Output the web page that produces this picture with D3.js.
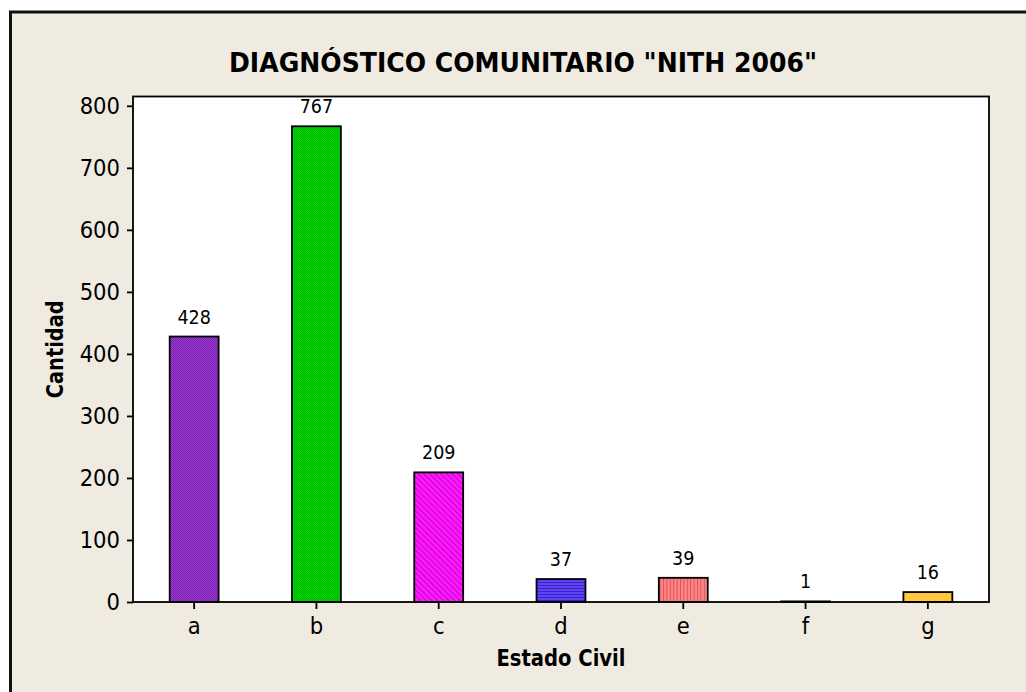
<!DOCTYPE html>
<html>
<head>
<meta charset="utf-8">
<script src="https://cdn.jsdelivr.net/npm/d3@7"></script>
<style>
    body { margin: 0; background: #fff; }
    text { font-family: "DejaVu Sans Condensed", "DejaVu Sans", sans-serif; font-stretch: condensed; fill: #000; }
</style>
</head>
<body>
<svg id="chart" width="1026" height="692"></svg>
<script>
const categories = ["a", "b", "c", "d", "e", "f", "g"];
const values = [428, 767, 209, 37, 39, 1, 16];
const yTicks = [0, 100, 200, 300, 400, 500, 600, 700, 800];
const title = 'DIAGNÓSTICO COMUNITARIO "NITH 2006"';
const xTitle = "Estado Civil";
const yTitle = "Cantidad";

// fill pattern per bar: [base, ink, kind]
const barFills = [
    ["#9838d0", "#7c22b0", "dots"],
    ["#00dc00", "#00b000", "dots"],
    ["#ff1cff", "#d000d0", "diag"],
    ["#5f44f4", "#3a20c8", "hlines"],
    ["#ff8686", "#d85454", "vlines"],
    ["#777777", "#777777", "solid"],
    ["#ffc83c", "#ffc83c", "solid"]
];

const width = 1026, height = 692;
const plot = {left: 133, right: 989, top: 96.5, bottom: 602};

const svg = d3.select("#chart");

// page background and outer frame
svg.append("rect").attr("width", width).attr("height", height).attr("fill", "#fff");
svg.append("rect")
    .attr("x", 10.5).attr("y", 12)
    .attr("width", width + 20).attr("height", height + 20)
    .attr("fill", "#efebe1")
    .attr("stroke", "#111").attr("stroke-width", 3);

const defs = svg.append("defs");
barFills.forEach(([base, ink, kind], i) => {
    const p = defs.append("pattern")
        .attr("id", "fill" + i)
        .attr("patternUnits", "userSpaceOnUse");
    if (kind === "dots") {
        p.attr("width", 2).attr("height", 2);
        p.append("rect").attr("width", 2).attr("height", 2).attr("fill", base);
        p.append("rect").attr("width", 1).attr("height", 1).attr("fill", ink);
        p.append("rect").attr("x", 1).attr("y", 1).attr("width", 1).attr("height", 1).attr("fill", ink);
    } else if (kind === "diag") {
        p.attr("width", 4).attr("height", 4).attr("patternTransform", "rotate(-45)");
        p.append("rect").attr("width", 4).attr("height", 4).attr("fill", base);
        p.append("rect").attr("width", 1.3).attr("height", 4).attr("fill", ink);
    } else if (kind === "hlines") {
        p.attr("width", 4).attr("height", 3);
        p.append("rect").attr("width", 4).attr("height", 3).attr("fill", base);
        p.append("rect").attr("width", 4).attr("height", 1).attr("fill", ink);
    } else if (kind === "vlines") {
        p.attr("width", 3.4).attr("height", 4);
        p.append("rect").attr("width", 3.4).attr("height", 4).attr("fill", base);
        p.append("rect").attr("width", 1).attr("height", 4).attr("fill", ink);
    } else {
        p.attr("width", 4).attr("height", 4);
        p.append("rect").attr("width", 4).attr("height", 4).attr("fill", base);
    }
});

const x = d3.scaleBand()
    .domain(categories)
    .range([plot.left, plot.right])
    .paddingInner(0.6)
    .paddingOuter(0.3);

const y = d3.scaleLinear()
    .domain([0, 815])
    .range([plot.bottom, plot.top]);

// plot area
svg.append("rect")
    .attr("x", plot.left).attr("y", plot.top)
    .attr("width", plot.right - plot.left).attr("height", plot.bottom - plot.top)
    .attr("fill", "#fff");

// bars
svg.append("g")
    .selectAll("rect")
    .data(values)
    .enter()
    .append("rect")
    .attr("x", (d, i) => x(categories[i]))
    .attr("y", d => y(d))
    .attr("width", x.bandwidth())
    .attr("height", d => y(0) - y(d))
    .attr("fill", (d, i) => `url(#fill${i})`)
    .attr("stroke", "#000")
    .attr("stroke-width", 1.8);

// value labels
svg.append("g")
    .selectAll("text")
    .data(values)
    .enter()
    .append("text")
    .attr("x", (d, i) => x(categories[i]) + x.bandwidth() / 2)
    .attr("y", d => y(d) - 13)
    .attr("text-anchor", "middle")
    .attr("font-size", 19.5)
    .text(d => d);

// frame
svg.append("rect")
    .attr("x", plot.left).attr("y", plot.top)
    .attr("width", plot.right - plot.left).attr("height", plot.bottom - plot.top)
    .attr("fill", "none")
    .attr("stroke", "#000").attr("stroke-width", 1.8);

// axes
const yAxis = svg.append("g")
    .attr("transform", `translate(${plot.left},0)`)
    .call(d3.axisLeft(y).tickValues(yTicks).tickSize(6).tickPadding(7));
const xAxis = svg.append("g")
    .attr("transform", `translate(0,${plot.bottom})`)
    .call(d3.axisBottom(x).tickSize(7).tickPadding(8));

[yAxis, xAxis].forEach(ax => {
    ax.attr("font-family", null);
    ax.select(".domain").remove();
    ax.selectAll(".tick line").attr("stroke", "#000").attr("stroke-width", 1.8);
    ax.selectAll(".tick text")
        .attr("fill", "#000")
        .attr("font-size", 23.5);
});

// titles
svg.append("text")
    .attr("x", (229 + 817) / 2).attr("y", 72)
    .attr("text-anchor", "middle")
    .attr("font-size", 26.5)
    .attr("font-weight", "bold")
    .attr("textLength", 588)
    .attr("lengthAdjust", "spacingAndGlyphs")
    .text(title);

svg.append("text")
    .attr("x", (plot.left + plot.right) / 2).attr("y", 666)
    .attr("text-anchor", "middle")
    .attr("font-size", 22.5)
    .attr("font-weight", "bold")
    .attr("textLength", 129)
    .attr("lengthAdjust", "spacingAndGlyphs")
    .text(xTitle);

svg.append("text")
    .attr("transform", `translate(63,${(plot.top + plot.bottom) / 2}) rotate(-90)`)
    .attr("text-anchor", "middle")
    .attr("font-size", 22.5)
    .attr("font-weight", "bold")
    .attr("textLength", 98)
    .attr("lengthAdjust", "spacingAndGlyphs")
    .text(yTitle);
</script>
</body>
</html>
